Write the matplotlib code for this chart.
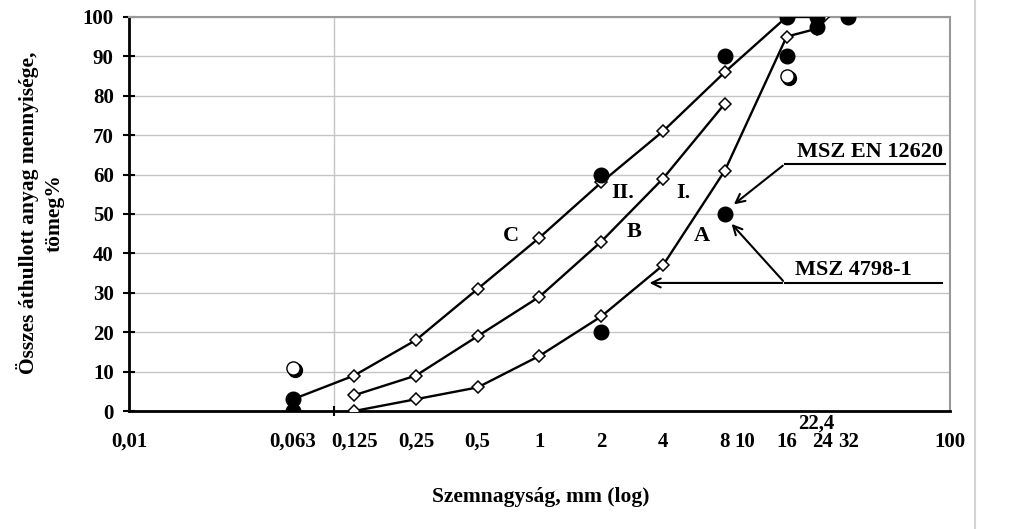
import matplotlib.pyplot as plt
import matplotlib.transforms as mtransforms
from matplotlib.lines import Line2D
from matplotlib.ticker import NullFormatter

plt.rcParams['font.family'] = ['Liberation Serif', 'DejaVu Serif']
plt.rcParams['font.weight'] = 'bold'

# Szitagorbek (A, B, C hatargorbek)
a_x = [0.125, 0.25, 0.5, 1, 2, 4, 8, 16, 22.4]
a_y = [0, 3, 6, 14, 24, 37, 61, 95, 97]
b_x = [0.125, 0.25, 0.5, 1, 2, 4, 8]
b_y = [4, 9, 19, 29, 43, 59, 78]
c_x = [0.063, 0.125, 0.25, 0.5, 1, 2, 4, 8, 16, 24]
c_y = [3, 9, 18, 31, 44, 58, 71, 86, 100, 100]

# fekete pontok
dot_x = [0.063, 0.063, 2, 2, 8, 8, 16, 16, 22.4, 22.4, 32]
dot_y = [0, 3, 60, 20, 90, 50, 100, 90, 100, 97.5, 100]
# ures pontok
open_x = [0.063, 16]
open_y = [11, 85]

tick_vals = [0.01, 0.063, 0.125, 0.25, 0.5, 1, 2, 4, 8, 10, 16, 22.4, 24, 32, 100]
tick_labels = ["0,01", "0,063", "0,125", "0,25", "0,5", "1", "2", "4", "8", "10",
               "16", "22,4", "24", "32", "100"]

curve_labels = ["C", "B", "A", "II.", "I."]
curve_lab_x = [0.73, 2.9, 6.2, 2.55, 5.0]
curve_lab_y = [44.5, 45.5, 44.5, 55.3, 55.3]

fig = plt.figure(figsize=(10.13, 5.29), dpi=100)
ax = fig.add_axes([0.1273, 0.223, 0.8105, 0.745])

for xs, ys in [(a_x, a_y), (b_x, b_y), (c_x, c_y)]:
    ax.plot(xs, ys, color="black", lw=1.7, marker="D", ms=6.5,
            mfc="white", mec="black", mew=1.1, zorder=3)

ax.plot(dot_x, dot_y, "o", color="black", ms=10.5, zorder=4)
# arnyekos ures kor
ax.plot(open_x, open_y, "o", color="black", ms=10, zorder=4,
        transform=ax.transData + mtransforms.ScaledTranslation(1.5/72, -1.5/72, fig.dpi_scale_trans))
ax.plot(open_x, open_y, "o", mfc="white", mec="black", mew=1, ms=9.5, zorder=5)

for t, x, y in zip(curve_labels, curve_lab_x, curve_lab_y):
    ax.text(x, y, t, fontsize=16, ha="center", va="center", fontweight="bold")

# MSZ EN 12620
ax.plot([94.6, 15.7], [62.7, 62.7], color="black", lw=1.5)
ax.annotate("", xy=(8.64, 52), xytext=(15.7, 62.7),
            arrowprops=dict(arrowstyle="->", color="black", lw=1.5, mutation_scale=16))
ax.text(17.9, 65.8, "MSZ EN 12620", fontsize=16, ha="left", va="center")

# MSZ 4798-1
ax.plot([91.5, 15.7], [32.5, 32.5], color="black", lw=1.5)
ax.annotate("", xy=(3.33, 32.5), xytext=(15.7, 32.5),
            arrowprops=dict(arrowstyle="->", color="black", lw=1.5, mutation_scale=16))
ax.annotate("", xy=(8.45, 48), xytext=(15.7, 32.5),
            arrowprops=dict(arrowstyle="->", color="black", lw=1.5, mutation_scale=16))
ax.text(17.5, 35.9, "MSZ 4798-1", fontsize=16, ha="left", va="center")

ax.set_xscale("log")
ax.set_xlim(0.01, 100)
ax.set_ylim(0, 100)
ax.set_yticks(range(0, 101, 10))

ax.set_xticks(tick_vals)
ax.set_xticklabels(tick_labels)
ax.set_xticks([0.01, 0.1, 1, 10, 100], minor=True)
ax.xaxis.set_minor_formatter(NullFormatter())
ax.tick_params(axis="x", which="major", length=0, pad=15, labelsize=15)
ax.tick_params(axis="x", which="minor", length=7, width=1.5, direction="inout")
ax.tick_params(axis="y", length=8, width=1.5, direction="inout", pad=7, labelsize=15)
for lab in ax.get_xticklabels():
    if lab.get_text() == "22,4":
        lab.set_transform(lab.get_transform() + mtransforms.ScaledTranslation(0, 13/72, fig.dpi_scale_trans))

ax.grid(False)
ax.grid(True, axis="x", which="minor", color="#c4c4c4", lw=1)
ax.grid(True, axis="y", which="major", color="#c4c4c4", lw=1)
ax.set_axisbelow(True)

for s in ["left", "bottom"]:
    ax.spines[s].set_linewidth(2)
    ax.spines[s].set_color("black")
for s in ["top", "right"]:
    ax.spines[s].set_linewidth(1.5)
    ax.spines[s].set_color("#999999")

fig.text(0.04, 0.598, "Összes áthullott anyag mennyisége,\ntömeg%", rotation=90,
         ha="center", va="center", fontsize=15.5, fontweight="bold",
         multialignment="center", linespacing=1.35)
fig.text(0.534, 0.06, "Szemnagyság, mm (log)", ha="center", va="center",
         fontsize=15.5, fontweight="bold")

fig.add_artist(Line2D([0.9625, 0.9625], [0, 1], color="#d4d4d4", lw=1.5))

fig.savefig("out.png", dpi=100)
